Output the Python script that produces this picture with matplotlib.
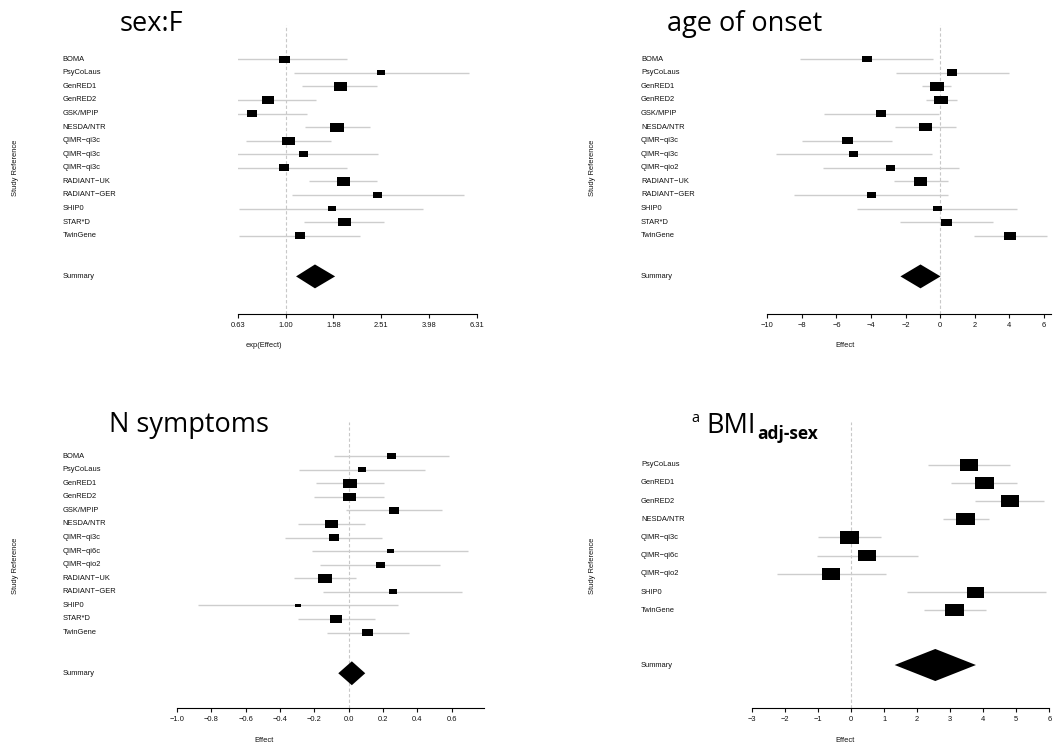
import matplotlib
matplotlib.use("Agg")
import matplotlib.pyplot as plt
import numpy as np
from matplotlib.path import Path
from matplotlib import transforms

# ---------------- data ----------------
# Panel 1: sex:F  (effects on natural-log scale, axis shows exp(Effect))
sexF_studies = ["BOMA", "PsyCoLaus", "GenRED1", "GenRED2", "GSK/MPIP", "NESDA/NTR",
                "QIMR−qi3c", "QIMR−qi3c", "QIMR−qi3c", "RADIANT−UK", "RADIANT−GER",
                "SHIP0", "STAR*D", "TwinGene"]
sexF_est = [-0.007, 0.921, 0.530, -0.166, -0.322, 0.497, 0.025, 0.170, -0.016, 0.560,
            0.884, 0.444, 0.569, 0.138]
sexF_lo = [-0.608, 0.078, 0.163, -0.633, -0.852, 0.187, -0.382, -0.553, -0.617, 0.221,
           0.060, -0.444, 0.182, -0.444]
sexF_hi = [0.592, 1.766, 0.884, 0.297, 0.203, 0.811, 0.435, 0.891, 0.587, 0.884,
           1.718, 1.326, 0.951, 0.718]
sexF_weight = [10.7, 8.3, 13.3, 11.7, 10.7, 14.0, 12.7, 9.0, 10.3, 13.3, 8.3, 8.0, 12.7, 10.3]
sexF_summary = [0.283, 0.101, 0.477]  # est, lo, hi
sexF_ticks = [-0.4605, 0.0, 0.4605, 0.9210, 1.3816, 1.8421]
sexF_ticklabels = ["0.63", "1.00", "1.58", "2.51", "3.98", "6.31"]

# Panel 2: age of onset
age_studies = ["BOMA", "PsyCoLaus", "GenRED1", "GenRED2", "GSK/MPIP", "NESDA/NTR",
               "QIMR−qi3c", "QIMR−qi3c", "QIMR−qio2", "RADIANT−UK", "RADIANT−GER",
               "SHIP0", "STAR*D", "TwinGene"]
age_est = [-4.26, 0.68, -0.21, 0.04, -3.40, -0.83, -5.38, -5.01, -2.86, -1.12, -4.00,
           -0.17, 0.37, 4.04]
age_lo = [-8.12, -2.55, -1.03, -0.85, -6.71, -2.63, -7.99, -9.52, -6.77, -2.69, -8.45,
          -4.82, -2.32, 1.93]
age_hi = [-0.39, 3.97, 0.60, 0.95, -0.06, 0.93, -2.79, -0.48, 1.06, 0.45, 0.45,
          4.47, 3.06, 6.15]
age_weight = [10.0, 10.3, 14.0, 13.7, 10.0, 12.7, 11.3, 9.0, 9.3, 13.3, 9.0, 8.7, 11.0, 12.3]
age_summary = [-1.14, -2.30, 0.02]
age_ticks = [-10, -8, -6, -4, -2, 0, 2, 4, 6]
age_ticklabels = ["−10", "−8", "−6", "−4", "−2", "0", "2", "4", "6"]

# Panel 3: N symptoms
nsym_studies = ["BOMA", "PsyCoLaus", "GenRED1", "GenRED2", "GSK/MPIP", "NESDA/NTR",
                "QIMR−qi3c", "QIMR−qi6c", "QIMR−qio2", "RADIANT−UK", "RADIANT−GER",
                "SHIP0", "STAR*D", "TwinGene"]
nsym_est = [0.249, 0.076, 0.008, 0.004, 0.263, -0.102, -0.086, 0.241, 0.184, -0.139,
            0.255, -0.296, -0.073, 0.110]
nsym_lo = [-0.086, -0.288, -0.190, -0.204, -0.018, -0.298, -0.369, -0.212, -0.165, -0.316,
           -0.149, -0.880, -0.298, -0.127]
nsym_hi = [0.584, 0.443, 0.206, 0.208, 0.541, 0.094, 0.194, 0.694, 0.533, 0.041,
           0.657, 0.286, 0.155, 0.349]
nsym_weight = [9.0, 8.3, 13.3, 13.3, 10.0, 13.3, 10.7, 7.0, 8.7, 14.3, 8.0, 5.3, 12.3, 11.3]
nsym_summary = [0.018, -0.061, 0.096]
nsym_ticks = [-1.0, -0.8, -0.6, -0.4, -0.2, 0.0, 0.2, 0.4, 0.6]
nsym_ticklabels = ["−1.0", "−0.8", "−0.6", "−0.4", "−0.2", "0.0", "0.2", "0.4", "0.6"]

# Panel 4: BMI adj-sex
bmi_studies = ["PsyCoLaus", "GenRED1", "GenRED2", "NESDA/NTR", "QIMR−qi3c", "QIMR−qi6c",
               "QIMR−qio2", "SHIP0", "TwinGene"]
bmi_est = [3.56, 4.04, 4.81, 3.47, -0.04, 0.49, -0.60, 3.78, 3.14]
bmi_lo = [2.33, 3.03, 3.76, 2.79, -1.00, -1.03, -2.25, 1.68, 2.22]
bmi_hi = [4.80, 5.02, 5.85, 4.17, 0.91, 2.03, 1.05, 5.91, 4.08]
bmi_weight = [18.3, 18.7, 18.7, 19.0, 19.0, 17.7, 18.0, 17.0, 19.0]
bmi_summary = [2.55, 1.32, 3.78]
bmi_ticks = [-3, -2, -1, 0, 1, 2, 3, 4, 5, 6]
bmi_ticklabels = ["−3", "−2", "−1", "0", "1", "2", "3", "4", "5", "6"]

# ---------------- drawing ----------------
W, H = 1055, 744
DPI = 100
fig = plt.figure(figsize=(W / DPI, H / DPI), dpi=DPI)

SMALL = dict(family=["Liberation Sans", "DejaVu Sans"], size=5.4, color="#111111")
TITLE_FAM = ["Open Sans", "DejaVu Sans"]
CI_COLOR = "#cdcdcd"
REF_COLOR = "#c8c8c8"

ratio = 1.55
box_path = Path([(-1, -1 / ratio), (1, -1 / ratio), (1, 1 / ratio), (-1, 1 / ratio), (-1, -1 / ratio)],
                [Path.MOVETO, Path.LINETO, Path.LINETO, Path.LINETO, Path.CLOSEPOLY])


def rect(x0, x1, ytop, ybot):
    return [x0 / W, 1 - ybot / H, (x1 - x0) / W, (ybot - ytop) / H]


def panel(r, xlim, ylim, spine_bounds, studies, est, lo, hi, weight, summary,
          ticks, ticklabels, label_x, xlabel, xlabel_pos, sref_pos):
    ax = fig.add_axes(r)
    ax.set_xlim(*xlim)
    ax.set_ylim(*ylim)
    for s in ["top", "right", "left"]:
        ax.spines[s].set_visible(False)
    ax.spines["bottom"].set_linewidth(0.8)
    ax.spines["bottom"].set_bounds(*spine_bounds)
    ax.set_yticks([])
    ax.set_xticks(ticks)
    ax.set_xticklabels(ticklabels, fontdict=dict(family=SMALL["family"], size=SMALL["size"]))
    ax.tick_params(axis="x", length=2.6, width=0.8, pad=3, colors="#111111")
    ax.patch.set_alpha(0)

    n = len(studies)
    rows = np.arange(n)
    srow = n + 2
    ax.axvline(0, color=REF_COLOR, lw=0.8, dashes=(3, 2), zorder=1)
    ax.hlines(rows, lo, hi, color=CI_COLOR, lw=1.0, zorder=2)
    sizes = (np.asarray(weight) * 72.0 / DPI) ** 2
    ax.scatter(est, rows, s=sizes, marker=box_path, color="black", linewidths=0, zorder=3)
    e, l, h = summary
    hh = 0.88
    ax.fill([l, e, h, e], [srow, srow - hh, srow, srow + hh], color="black", lw=0, zorder=3)

    tr = transforms.blended_transform_factory(fig.transFigure, ax.transData)
    for i, name in enumerate(studies):
        ax.text(label_x / W, i, name, transform=tr, ha="left", va="center", **SMALL)
    ax.text(label_x / W, srow, "Summary", transform=tr, ha="left", va="center", **SMALL)

    fig.text(xlabel_pos[0] / W, 1 - xlabel_pos[1] / H, xlabel, ha="center", va="center", **SMALL)
    fig.text(sref_pos[0] / W, 1 - sref_pos[1] / H, "Study Reference", rotation=90,
             ha="center", va="center", **SMALL)
    return ax


panel(rect(237.7, 477.0, 25.3, 314.0), (-0.4605, 1.8421), (18.77, -2.5), (-0.4605, 1.8421),
      sexF_studies, sexF_est, sexF_lo, sexF_hi, sexF_weight, sexF_summary,
      sexF_ticks, sexF_ticklabels, 62.3, "exp(Effect)", (264, 345.8), (15.2, 168))

panel(rect(767.3, 767.3 + 16.4 * 17.29, 25.3, 314.0), (-10, 6.4), (18.77, -2.5), (-10, 6.4),
      age_studies, age_est, age_lo, age_hi, age_weight, age_summary,
      age_ticks, age_ticklabels, 641, "Effect", (844.8, 345.8), (593, 168))

panel(rect(177.0, 177.0 + 1.786 * 171.75, 421.8, 708.0), (-1.0, 0.786), (18.56, -2.53), (-1.0, 0.786),
      nsym_studies, nsym_est, nsym_lo, nsym_hi, nsym_weight, nsym_summary,
      nsym_ticks, nsym_ticklabels, 62.3, "Effect", (264.3, 740), (15.2, 565.6))

panel(rect(751.9, 1049.3, 421.8, 708.0), (-3, 6), (13.36, -2.35), (-3, 6),
      bmi_studies, bmi_est, bmi_lo, bmi_hi, bmi_weight, bmi_summary,
      bmi_ticks, bmi_ticklabels, 641, "Effect", (844.8, 740), (593, 565.6))

# titles
fig.text(119.5 / W, 1 - 31 / H, "sex:F", family=TITLE_FAM, size=19.5, ha="left", va="baseline")
fig.text(667.4 / W, 1 - 31 / H, "age of onset", family=TITLE_FAM, size=19.5, ha="left", va="baseline")
fig.text(109.4 / W, 1 - 432 / H, "N symptoms", family=TITLE_FAM, size=19.5, ha="left", va="baseline")
fig.text(691.6 / W, 1 - 421.8 / H, "a", family=TITLE_FAM, size=10.5, ha="left", va="baseline")
fig.text(706.8 / W, 1 - 432.6 / H, "BMI", family=TITLE_FAM, size=19.5, ha="left", va="baseline")
fig.text(757.3 / W, 1 - 439.3 / H, "adj-sex", family=TITLE_FAM, size=12.5, weight="bold",
         ha="left", va="baseline")

fig.savefig("out.png", dpi=DPI)
